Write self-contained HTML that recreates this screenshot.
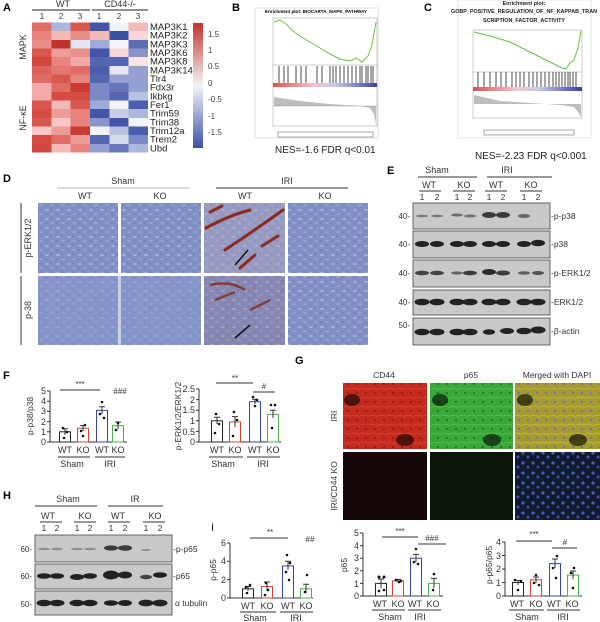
<!DOCTYPE html>
<html><head><meta charset="utf-8"><style>
html,body{margin:0;padding:0;background:#fff;}
svg{display:block;font-family:"Liberation Sans",Arial,sans-serif;}
</style></head><body>
<svg width="600" height="622" viewBox="0 0 600 622" xmlns="http://www.w3.org/2000/svg">
<defs>
<linearGradient id="cb" x1="0" y1="0" x2="0" y2="1">
<stop offset="0" stop-color="#c0332c"/><stop offset="0.5" stop-color="#f4f4f8"/><stop offset="1" stop-color="#3c50a5"/></linearGradient>
<linearGradient id="rb" x1="0" y1="0" x2="1" y2="0">
<stop offset="0" stop-color="#d9534f"/><stop offset="0.4" stop-color="#f2c4d4"/><stop offset="0.6" stop-color="#c8c8e8"/><stop offset="1" stop-color="#3a3fa0"/></linearGradient>
<pattern id="tis" width="11" height="9" patternUnits="userSpaceOnUse">
<rect width="11" height="9" fill="#8191c6"/>
<ellipse cx="3" cy="3" rx="2" ry="1" fill="#a3b0da"/>
<ellipse cx="8" cy="7" rx="1.8" ry="0.9" fill="#98a6d6"/>
<circle cx="7" cy="2" r="0.8" fill="#6a77b2"/><circle cx="2" cy="7" r="0.8" fill="#6a77b2"/>
</pattern>
<pattern id="red" width="9" height="9" patternUnits="userSpaceOnUse">
<rect width="9" height="9" fill="#c22b1e"/><path d="M0 2 Q4 0 9 3" stroke="#d9452f" stroke-width="0.8" fill="none"/><circle cx="6" cy="6" r="1" fill="#8a1a10"/></pattern>
<pattern id="grn" width="9" height="9" patternUnits="userSpaceOnUse">
<rect width="9" height="9" fill="#38a638"/><path d="M0 2 Q4 0 9 3" stroke="#55c04f" stroke-width="0.8" fill="none"/><circle cx="6" cy="6" r="1" fill="#1c6a1c"/></pattern>
<pattern id="mrg" width="9" height="9" patternUnits="userSpaceOnUse">
<rect width="9" height="9" fill="#a49a30"/><path d="M0 2 Q4 0 9 3" stroke="#c4b840" stroke-width="0.8" fill="none"/><circle cx="6" cy="6" r="1.2" fill="#7072a8"/></pattern>
<pattern id="dapi" width="10" height="10" patternUnits="userSpaceOnUse">
<rect width="10" height="10" fill="#121a2e"/><circle cx="3" cy="3" r="1.6" fill="#4a5fc0"/><circle cx="8" cy="7" r="1.5" fill="#3e52b0"/></pattern>
</defs>
<rect width="600" height="622" fill="#fff"/>

<!-- ===== A ===== -->
<text x="3" y="11" font-size="11" font-weight="bold">A</text>
<text x="63" y="7" font-size="9" text-anchor="middle" fill="#333">WT</text>
<text x="120" y="7" font-size="9" text-anchor="middle" fill="#333">CD44-/-</text>
<line x1="32" y1="10" x2="90" y2="10" stroke="#222"/><line x1="92" y1="10" x2="148" y2="10" stroke="#222"/>
<g font-size="8" text-anchor="middle" fill="#333"><text x="42" y="19">1</text><text x="61" y="19">2</text><text x="80" y="19">3</text><text x="99" y="19">1</text><text x="119" y="19">2</text><text x="138" y="19">3</text></g>
<g shape-rendering="crispEdges">
<g transform="translate(32,22.5)">
<rect x="0" y="0" width="19.4" height="8.7" fill="#e06c66"/><rect x="19.33" y="0" width="19.4" height="8.7" fill="#adb6dc"/><rect x="38.66" y="0" width="19.4" height="8.7" fill="#d85850"/><rect x="58" y="0" width="19.4" height="8.7" fill="#4255a8"/><rect x="77.33" y="0" width="19.4" height="8.7" fill="#f4f4f8"/><rect x="96.66" y="0" width="19.4" height="8.7" fill="#f4bab8"/>
<rect x="0" y="8.67" width="19.4" height="8.7" fill="#e8837e"/><rect x="19.33" y="8.67" width="19.4" height="8.7" fill="#f4bab8"/><rect x="38.66" y="8.67" width="19.4" height="8.7" fill="#ea8e8a"/><rect x="58" y="8.67" width="19.4" height="8.7" fill="#f4bab8"/><rect x="77.33" y="8.67" width="19.4" height="8.7" fill="#3c50a5"/><rect x="96.66" y="8.67" width="19.4" height="8.7" fill="#f8d6d5"/>
<rect x="0" y="17.34" width="19.4" height="8.7" fill="#ea8e8a"/><rect x="19.33" y="17.34" width="19.4" height="8.7" fill="#c0332c"/><rect x="38.66" y="17.34" width="19.4" height="8.7" fill="#e4e7f3"/><rect x="58" y="17.34" width="19.4" height="8.7" fill="#a0aad6"/><rect x="77.33" y="17.34" width="19.4" height="8.7" fill="#f4f4f8"/><rect x="96.66" y="17.34" width="19.4" height="8.7" fill="#5d6db6"/>
<rect x="0" y="26" width="19.4" height="8.7" fill="#d85850"/><rect x="19.33" y="26" width="19.4" height="8.7" fill="#ee9c98"/><rect x="38.66" y="26" width="19.4" height="8.7" fill="#ea8e8a"/><rect x="58" y="26" width="19.4" height="8.7" fill="#4255a8"/><rect x="77.33" y="26" width="19.4" height="8.7" fill="#f8d6d5"/><rect x="96.66" y="26" width="19.4" height="8.7" fill="#8795cb"/>
<rect x="0" y="34.68" width="19.4" height="8.7" fill="#d04840"/><rect x="19.33" y="34.68" width="19.4" height="8.7" fill="#e8837e"/><rect x="38.66" y="34.68" width="19.4" height="8.7" fill="#f1aaa7"/><rect x="58" y="34.68" width="19.4" height="8.7" fill="#5465b2"/><rect x="77.33" y="34.68" width="19.4" height="8.7" fill="#5465b2"/><rect x="96.66" y="34.68" width="19.4" height="8.7" fill="#f9e4e4"/>
<rect x="0" y="43.35" width="19.4" height="8.7" fill="#dc625b"/><rect x="19.33" y="43.35" width="19.4" height="8.7" fill="#e47873"/><rect x="38.66" y="43.35" width="19.4" height="8.7" fill="#e06c66"/><rect x="58" y="43.35" width="19.4" height="8.7" fill="#4b5dad"/><rect x="77.33" y="43.35" width="19.4" height="8.7" fill="#e4e7f3"/><rect x="96.66" y="43.35" width="19.4" height="8.7" fill="#93a0d1"/>
<rect x="0" y="52" width="19.4" height="8.7" fill="#e06c66"/><rect x="19.33" y="52" width="19.4" height="8.7" fill="#d85850"/><rect x="38.66" y="52" width="19.4" height="8.7" fill="#e8837e"/><rect x="58" y="52" width="19.4" height="8.7" fill="#5465b2"/><rect x="77.33" y="52" width="19.4" height="8.7" fill="#93a0d1"/><rect x="96.66" y="52" width="19.4" height="8.7" fill="#93a0d1"/>
<rect x="0" y="60.7" width="19.4" height="8.7" fill="#f1aaa7"/><rect x="19.33" y="60.7" width="19.4" height="8.7" fill="#e06c66"/><rect x="38.66" y="60.7" width="19.4" height="8.7" fill="#c83a32"/><rect x="58" y="60.7" width="19.4" height="8.7" fill="#7b8ac5"/><rect x="77.33" y="60.7" width="19.4" height="8.7" fill="#6676bb"/><rect x="96.66" y="60.7" width="19.4" height="8.7" fill="#93a0d1"/>
<rect x="0" y="69.36" width="19.4" height="8.7" fill="#f1aaa7"/><rect x="19.33" y="69.36" width="19.4" height="8.7" fill="#d44c44"/><rect x="38.66" y="69.36" width="19.4" height="8.7" fill="#d44c44"/><rect x="58" y="69.36" width="19.4" height="8.7" fill="#7b8ac5"/><rect x="77.33" y="69.36" width="19.4" height="8.7" fill="#5465b2"/><rect x="96.66" y="69.36" width="19.4" height="8.7" fill="#bac2e2"/>
<rect x="0" y="78" width="19.4" height="8.7" fill="#d85850"/><rect x="19.33" y="78" width="19.4" height="8.7" fill="#f4bab8"/><rect x="38.66" y="78" width="19.4" height="8.7" fill="#d85850"/><rect x="58" y="78" width="19.4" height="8.7" fill="#a0aad6"/><rect x="77.33" y="78" width="19.4" height="8.7" fill="#f4f4f8"/><rect x="96.66" y="78" width="19.4" height="8.7" fill="#4b5dad"/>
<rect x="0" y="86.7" width="19.4" height="8.7" fill="#d44c44"/><rect x="19.33" y="86.7" width="19.4" height="8.7" fill="#ee9c98"/><rect x="38.66" y="86.7" width="19.4" height="8.7" fill="#e8837e"/><rect x="58" y="86.7" width="19.4" height="8.7" fill="#4255a8"/><rect x="77.33" y="86.7" width="19.4" height="8.7" fill="#c8cee8"/><rect x="96.66" y="86.7" width="19.4" height="8.7" fill="#adb6dc"/>
<rect x="0" y="95.37" width="19.4" height="8.7" fill="#d85850"/><rect x="19.33" y="95.37" width="19.4" height="8.7" fill="#f6c8c6"/><rect x="38.66" y="95.37" width="19.4" height="8.7" fill="#e8837e"/><rect x="58" y="95.37" width="19.4" height="8.7" fill="#8795cb"/><rect x="77.33" y="95.37" width="19.4" height="8.7" fill="#4255a8"/><rect x="96.66" y="95.37" width="19.4" height="8.7" fill="#f4f4f8"/>
<rect x="0" y="104" width="19.4" height="8.7" fill="#f6c8c6"/><rect x="19.33" y="104" width="19.4" height="8.7" fill="#ee9c98"/><rect x="38.66" y="104" width="19.4" height="8.7" fill="#c83a32"/><rect x="58" y="104" width="19.4" height="8.7" fill="#f4f4f8"/><rect x="77.33" y="104" width="19.4" height="8.7" fill="#bac2e2"/><rect x="96.66" y="104" width="19.4" height="8.7" fill="#4b5dad"/>
<rect x="0" y="112.7" width="19.4" height="8.7" fill="#d44c44"/><rect x="19.33" y="112.7" width="19.4" height="8.7" fill="#e06c66"/><rect x="38.66" y="112.7" width="19.4" height="8.7" fill="#ee9c98"/><rect x="58" y="112.7" width="19.4" height="8.7" fill="#5465b2"/><rect x="77.33" y="112.7" width="19.4" height="8.7" fill="#d6dbee"/><rect x="96.66" y="112.7" width="19.4" height="8.7" fill="#7b8ac5"/>
<rect x="0" y="121.4" width="19.4" height="8.7" fill="#d04840"/><rect x="19.33" y="121.4" width="19.4" height="8.7" fill="#f4bab8"/><rect x="38.66" y="121.4" width="19.4" height="8.7" fill="#e8837e"/><rect x="58" y="121.4" width="19.4" height="8.7" fill="#93a0d1"/><rect x="77.33" y="121.4" width="19.4" height="8.7" fill="#6676bb"/><rect x="96.66" y="121.4" width="19.4" height="8.7" fill="#adb6dc"/>
</g></g>
<g font-size="9.5" fill="#222">
<text x="150" y="30">MAP3K1</text><text x="150" y="38.7">MAP3K2</text><text x="150" y="47.4">MAP3K3</text><text x="150" y="56">MAP3K6</text><text x="150" y="64.7">MAP3K8</text><text x="150" y="73.4">MAP3K14</text><text x="150" y="82">Tlr4</text><text x="150" y="90.7">Fdx3r</text><text x="150" y="99.4">Ikbkg</text><text x="150" y="108">Fer1</text><text x="150" y="116.7">Trim59</text><text x="150" y="125.4">Trim38</text><text x="150" y="134">Trim12a</text><text x="150" y="142.7">Trem2</text><text x="150" y="151.4">Ubd</text>
</g>
<text transform="translate(26,47) rotate(-90)" font-size="9" text-anchor="middle" fill="#333">MAPK</text>
<text transform="translate(26,118) rotate(-90)" font-size="9" text-anchor="middle" fill="#333">NF-κE</text>
<rect x="193" y="23" width="10" height="125" fill="url(#cb)"/>
<g font-size="8" fill="#444"><text x="208" y="37">1.5</text><text x="208" y="53">1</text><text x="208" y="69">0.5</text><text x="208" y="86">0</text><text x="208" y="102">-0.5</text><text x="208" y="119">-1</text><text x="208" y="135">-1.5</text></g>

<!-- ===== B ===== -->
<text x="232" y="11" font-size="11" font-weight="bold">B</text>
<rect x="255" y="8" width="123" height="130" fill="#fff" stroke="#ddd"/>
<text x="316" y="13" font-size="4.6" font-weight="bold" text-anchor="middle">Enrichment plot: BIOCARTA_MAPK_PATHWAY</text>
<rect x="273" y="18" width="104" height="108" fill="none" stroke="#999" stroke-width="0.5"/>
<line x1="273" y1="65" x2="377" y2="65" stroke="#999" stroke-width="0.5"/>
<path d="M274,22 L280,20 L286,24 L292,30 L300,36 L310,42 L320,48 L330,54 L340,59 L350,61 L356,58 L362,62 L368,56 L372,45 L376,22" fill="none" stroke="#6cc040" stroke-width="1"/>
<g stroke="#222" stroke-width="0.8">
<path d="M279,66V83M284,66V83M288,66V83M296,66V83M301,66V83M306,66V83M317,66V83M322,66V83M330,66V83M333,66V83M336,66V83M340,66V83M344,66V83M348,66V83M352,66V83M356,66V83M360,66V83M362,66V83M366,66V83M368,66V83M371,66V83M373,66V83"/></g>
<rect x="273" y="83" width="104" height="4" fill="url(#rb)"/>
<path d="M274,97 L300,101 L330,104 L360,106 L370,108 L374,114 L376,124 L376,106 L274,106 Z" fill="#bdbdbd"/>
<line x1="273" y1="106" x2="377" y2="106" stroke="#888" stroke-width="0.4"/>
<rect x="278" y="132" width="95" height="5" fill="none" stroke="#555" stroke-width="0.5"/>
<text x="275" y="153" font-size="10" fill="#222">NES=-1.6 FDR q&lt;0.01</text>

<!-- ===== C ===== -->
<text x="424" y="11" font-size="11" font-weight="bold">C</text>
<rect x="458" y="0" width="133" height="138" fill="#fff" stroke="#e4e4e4"/>
<g font-size="5.4" font-weight="bold" text-anchor="middle" fill="#222"><text x="524" y="5">Enrichment plot:</text><text x="524" y="13">GOBP_POSITIVE_REGULATION_OF_NF_KAPPAB_TRAN</text><text x="524" y="22">SCRIPTION_FACTOR_ACTIVITY</text></g>
<rect x="473" y="30" width="109" height="88" fill="none" stroke="#999" stroke-width="0.5"/>
<line x1="473" y1="72" x2="582" y2="72" stroke="#999" stroke-width="0.5"/>
<path d="M474,32 L490,36 L510,42 L530,52 L550,62 L562,68 L566,69 L570,63 L574,60 L578,48 L581,31" fill="none" stroke="#6cc040" stroke-width="1"/>
<g stroke="#222" stroke-width="0.8"><path d="M478,72V87M484,72V87M490,72V87M496,72V87M501,72V87M506,72V87M512,72V87M516,72V87M520,72V87M524,72V87M529,72V87M533,72V87M537,72V87M541,72V87M545,72V87M549,72V87M553,72V87M556,72V87M559,72V87M562,72V87M565,72V87M568,72V87M570,72V87M573,72V87M576,72V87"/></g>
<rect x="473" y="87" width="109" height="4" fill="url(#rb)"/>
<path d="M474,95 L500,101 L530,103 L560,105 L574,107 L578,112 L581,117 L581,104 L474,104 Z" fill="#bdbdbd"/>
<rect x="484" y="130" width="90" height="5" fill="none" stroke="#555" stroke-width="0.5"/>
<text x="475" y="159" font-size="10" fill="#222">NES=-2.23 FDR q&lt;0.001</text>

<!-- ===== D ===== -->
<text x="3" y="182" font-size="11" font-weight="bold">D</text>
<text x="123" y="184" font-size="9" text-anchor="middle" fill="#333">Sham</text>
<line x1="57" y1="188" x2="190" y2="188" stroke="#bbb"/>
<text x="287" y="184" font-size="9" text-anchor="middle" fill="#333">IRI</text>
<line x1="216" y1="188" x2="348" y2="188" stroke="#333"/>
<g font-size="9" text-anchor="middle" fill="#333"><text x="85" y="199">WT</text><text x="160" y="199">KO</text><text x="245" y="199">WT</text><text x="325" y="199">KO</text></g>
<line x1="21" y1="203" x2="21" y2="273" stroke="#333"/><line x1="21" y1="276" x2="21" y2="345" stroke="#333"/>
<text transform="translate(31,238) rotate(-90)" font-size="9" text-anchor="middle" fill="#333">p-ERK1/2</text>
<text transform="translate(31,310) rotate(-90)" font-size="9" text-anchor="middle" fill="#333">p-38</text>
<g>
<rect x="38" y="203" width="80" height="70" fill="url(#tis)"/>
<rect x="121" y="203" width="80" height="70" fill="url(#tis)"/>
<rect x="204" y="203" width="81" height="70" fill="url(#tis)"/>
<rect x="288" y="203" width="80" height="70" fill="url(#tis)"/>
<rect x="38" y="276" width="80" height="69" fill="url(#tis)"/>
<rect x="121" y="276" width="80" height="69" fill="url(#tis)"/>
<rect x="204" y="276" width="81" height="69" fill="url(#tis)"/>
<rect x="288" y="276" width="80" height="69" fill="url(#tis)"/>
<rect x="38" y="276" width="163" height="69" fill="#8a98cc" opacity="0.45"/>
<rect x="204" y="203" width="81" height="70" fill="#b9a8b8" opacity="0.4"/>
<g stroke="#8a2a1c" stroke-width="3" fill="none" stroke-linecap="round">
<path d="M206,228 Q230,215 250,210"/><path d="M225,250 Q255,230 283,210"/><path d="M240,268 L255,255"/><path d="M210,212 L222,206"/><path d="M262,246 L278,236"/></g>
<g stroke="#7a3020" stroke-width="2.5" fill="none"><path d="M210,285 Q230,280 245,290"/><path d="M215,300 L235,292"/><path d="M250,310 L270,300"/></g>
<rect x="204" y="276" width="81" height="69" fill="#9a6a80" opacity="0.25"/>
<path d="M235,265 L248,250" stroke="#111" stroke-width="1.5"/><path d="M235,338 L250,325" stroke="#111" stroke-width="1.5"/>
</g>

<!-- ===== E ===== -->
<text x="387" y="174" font-size="11" font-weight="bold">E</text>
<text x="437" y="173" font-size="9" text-anchor="middle" fill="#333">Sham</text>
<line x1="418" y1="177" x2="477" y2="177" stroke="#333"/>
<text x="507" y="173" font-size="9" text-anchor="middle" fill="#333">IRI</text>
<line x1="487" y1="177" x2="552" y2="177" stroke="#333"/>
<g font-size="9" text-anchor="middle" fill="#333"><text x="429" y="188">WT</text><text x="464" y="188">KO</text><text x="496" y="188">WT</text><text x="531" y="188">KO</text></g>
<g stroke="#333"><line x1="419" y1="191" x2="441" y2="191"/><line x1="453" y1="191" x2="475" y2="191"/><line x1="485" y1="191" x2="507" y2="191"/><line x1="520" y1="191" x2="542" y2="191"/></g>
<g font-size="8.5" text-anchor="middle" fill="#333"><text x="422" y="200">1</text><text x="437" y="200">2</text><text x="457" y="200">1</text><text x="470" y="200">2</text><text x="489" y="200">1</text><text x="503" y="200">2</text><text x="524" y="200">1</text><text x="538" y="200">2</text></g>
<g fill="#c9c9c9" stroke="#444" stroke-width="0.8">
<rect x="413" y="203" width="137" height="26"/><rect x="413" y="231" width="137" height="27"/><rect x="413" y="260" width="137" height="27"/><rect x="413" y="290" width="137" height="25"/><rect x="413" y="318" width="137" height="27"/></g>
<g fill="#222">
<ellipse cx="422" cy="216" rx="6" ry="1.3" opacity="0.5"/><ellipse cx="437" cy="216" rx="6" ry="1.3" opacity="0.5"/><ellipse cx="457" cy="215" rx="6" ry="1.5" opacity="0.55"/><ellipse cx="470" cy="216" rx="6" ry="1.5" opacity="0.55"/><ellipse cx="489" cy="215" rx="7" ry="3" opacity="0.85"/><ellipse cx="503" cy="215" rx="7" ry="3" opacity="0.85"/><ellipse cx="524" cy="216" rx="6" ry="2" opacity="0.6"/>
<ellipse cx="422" cy="244" rx="7" ry="3"/><ellipse cx="437" cy="244" rx="7" ry="3"/><ellipse cx="457" cy="244" rx="7" ry="3"/><ellipse cx="470" cy="244" rx="7" ry="3"/><ellipse cx="489" cy="244" rx="7" ry="3"/><ellipse cx="503" cy="244" rx="7" ry="3"/><ellipse cx="524" cy="244" rx="7" ry="3"/><ellipse cx="538" cy="243" rx="7" ry="3.2"/>
<ellipse cx="422" cy="273" rx="7" ry="2.3" opacity="0.8"/><ellipse cx="437" cy="273" rx="7" ry="2.2" opacity="0.8"/><ellipse cx="457" cy="273" rx="6" ry="1.6" opacity="0.6"/><ellipse cx="470" cy="273" rx="7" ry="2.3" opacity="0.85"/><ellipse cx="489" cy="272" rx="7" ry="3" opacity="0.95"/><ellipse cx="503" cy="273" rx="7" ry="2.5" opacity="0.85"/><ellipse cx="524" cy="273" rx="6" ry="1.8" opacity="0.65"/><ellipse cx="538" cy="273" rx="6" ry="2" opacity="0.7"/>
<ellipse cx="422" cy="302" rx="7.5" ry="3.3"/><ellipse cx="437" cy="302" rx="7.5" ry="3.3"/><ellipse cx="457" cy="302" rx="7.5" ry="3.3"/><ellipse cx="470" cy="302" rx="7.5" ry="3.3"/><ellipse cx="489" cy="302" rx="7.5" ry="3.3"/><ellipse cx="503" cy="302" rx="7.5" ry="3.3"/><ellipse cx="524" cy="302" rx="7.5" ry="3.3"/><ellipse cx="538" cy="302" rx="7.5" ry="3.3"/>
<ellipse cx="422" cy="332" rx="7.5" ry="3.3"/><ellipse cx="437" cy="332" rx="7.5" ry="3.3"/><ellipse cx="457" cy="332" rx="7.5" ry="3.3"/><ellipse cx="470" cy="332" rx="7.5" ry="3.3"/><ellipse cx="489" cy="332" rx="6" ry="2.8"/><ellipse cx="507" cy="331" rx="7" ry="3"/><ellipse cx="524" cy="331" rx="7.5" ry="3.3"/><ellipse cx="538" cy="330" rx="7.5" ry="3.5"/>
</g>
<g font-size="8" fill="#333" text-anchor="end"><text x="410" y="219">40-</text><text x="410" y="247">40-</text><text x="410" y="276">40-</text><text x="410" y="305">40-</text><text x="410" y="328">50-</text></g>
<g font-size="8.5" fill="#333"><text x="551" y="219">-p-p38</text><text x="551" y="247">-p38</text><text x="551" y="276">-p-ERK1/2</text><text x="551" y="305">-ERK1/2</text><text x="551" y="334">-β-actin</text></g>

<!-- ===== F ===== -->
<text x="3" y="379" font-size="11" font-weight="bold">F</text>
<g font-size="9" fill="#333">
<line x1="50" y1="391" x2="50" y2="442" stroke="#333"/><line x1="50" y1="442" x2="127" y2="442" stroke="#333"/>
<g text-anchor="end"><text x="46" y="445">0</text><text x="46" y="435">1</text><text x="46" y="425">2</text><text x="46" y="414">3</text><text x="46" y="404">4</text><text x="46" y="394">5</text></g>
<path d="M47,442H50M47,431.8H50M47,421.6H50M47,411.4H50M47,401.2H50M47,391H50" stroke="#333"/>
<text transform="translate(33,416) rotate(-90)" text-anchor="middle" font-size="8.5">p-p38/p38</text>
<rect x="59.5" y="431.8" width="11" height="10.2" fill="#fff" stroke="#222"/>
<rect x="77.5" y="428.2" width="11" height="13.8" fill="#fff" stroke="#d9413a"/>
<rect x="96.5" y="410.4" width="11" height="31.6" fill="#fff" stroke="#3446a0"/>
<rect x="112.5" y="425.7" width="11" height="16.3" fill="#fff" stroke="#4caf50"/>
<path d="M62,428.7H68M65,428.7V435M80,425.6H86M83,425.6V431M99,406.8H105M102,406.8V414M115,422H121M118,422V429" stroke="#333" fill="none"/>
<g fill="#111"><circle cx="63" cy="428" r="1.3"/><circle cx="67" cy="432" r="1.3"/><circle cx="64" cy="438" r="1.3"/><circle cx="81" cy="431" r="1.3"/><circle cx="85" cy="425" r="1.3"/><circle cx="83" cy="436" r="1.3"/><circle cx="102" cy="402" r="1.3"/><circle cx="100" cy="414" r="1.3"/><circle cx="104" cy="418" r="1.3"/><circle cx="118" cy="423" r="1.3"/><circle cx="116" cy="430" r="1.3"/></g>
<text x="80" y="387" text-anchor="middle" font-size="8">***</text><line x1="60" y1="390" x2="100" y2="390" stroke="#333"/>
<text x="120" y="394" text-anchor="middle" font-size="8">###</text>
<g text-anchor="middle"><text x="65" y="453">WT</text><text x="83" y="453">KO</text><text x="102" y="453">WT</text><text x="118" y="453">KO</text><text x="72" y="467">Sham</text><text x="110" y="467">IRI</text></g>
<line x1="58" y1="457" x2="90" y2="457" stroke="#333"/><line x1="95" y1="457" x2="125" y2="457" stroke="#333"/>
<line x1="199" y1="389" x2="199" y2="442" stroke="#333"/><line x1="199" y1="442" x2="281" y2="442" stroke="#333"/>
<g text-anchor="end"><text x="195" y="445">0</text><text x="195" y="435">0.5</text><text x="195" y="424">1</text><text x="195" y="413">1.5</text><text x="195" y="403">2</text><text x="195" y="392">2.5</text></g>
<path d="M196,442H199M196,431.4H199M196,420.8H199M196,410.2H199M196,399.6H199M196,389H199" stroke="#333"/>
<text transform="translate(181,416) rotate(-90)" text-anchor="middle" font-size="8.5">p-ERK1/2/ERK1/2</text>
<rect x="211.5" y="420.8" width="11" height="21.2" fill="#fff" stroke="#222"/>
<rect x="229.5" y="421.9" width="11" height="20.1" fill="#fff" stroke="#d9413a"/>
<rect x="249.5" y="401.7" width="11" height="40.3" fill="#fff" stroke="#3446a0"/>
<rect x="267.5" y="414.4" width="11" height="27.6" fill="#fff" stroke="#4caf50"/>
<path d="M214,417.2H220M217,417.2V424M232,416.6H238M235,416.6V427M252,399.2H258M255,399.2V404M270,410.2H276M273,410.2V418" stroke="#333" fill="none"/>
<g fill="#111"><circle cx="216" cy="414" r="1.3"/><circle cx="219" cy="424" r="1.3"/><circle cx="215" cy="433" r="1.3"/><circle cx="234" cy="412" r="1.3"/><circle cx="237" cy="420" r="1.3"/><circle cx="233" cy="436" r="1.3"/><circle cx="253" cy="397" r="1.3"/><circle cx="257" cy="400" r="1.3"/><circle cx="255" cy="406" r="1.3"/><circle cx="271" cy="405" r="1.3"/><circle cx="275" cy="405" r="1.3"/><circle cx="272" cy="428" r="1.3"/></g>
<text x="235" y="381" text-anchor="middle" font-size="8">**</text><line x1="216" y1="383" x2="253" y2="383" stroke="#333"/>
<text x="264" y="389" text-anchor="middle" font-size="8">#</text><line x1="253" y1="392" x2="275" y2="392" stroke="#333"/>
<g text-anchor="middle"><text x="217" y="453">WT</text><text x="235" y="453">KO</text><text x="255" y="453">WT</text><text x="273" y="453">KO</text><text x="223" y="467">Sham</text><text x="263" y="467">IRI</text></g>
<line x1="209" y1="457" x2="243" y2="457" stroke="#333"/><line x1="247" y1="457" x2="280" y2="457" stroke="#333"/>
</g>

<!-- ===== G ===== -->
<text x="295" y="364" font-size="11" font-weight="bold">G</text>
<g font-size="8.5" text-anchor="middle" fill="#333"><text x="384" y="378">CD44</text><text x="471" y="378">p65</text><text x="557" y="378">Merged with DAPI</text></g>
<rect x="343" y="383" width="84" height="66" fill="url(#red)"/>
<rect x="430" y="383" width="83" height="66" fill="url(#grn)"/>
<rect x="515" y="383" width="85" height="66" fill="url(#mrg)"/>
<g fill="#000" opacity="0.6"><ellipse cx="352" cy="400" rx="8" ry="6"/><ellipse cx="405" cy="440" rx="9" ry="6"/><ellipse cx="440" cy="400" rx="8" ry="6"/><ellipse cx="492" cy="440" rx="9" ry="6"/><ellipse cx="525" cy="400" rx="8" ry="6"/><ellipse cx="578" cy="440" rx="9" ry="6"/></g>
<rect x="343" y="452" width="84" height="68" fill="#160808"/>
<rect x="430" y="452" width="83" height="68" fill="#0a160a"/>
<rect x="515" y="452" width="85" height="68" fill="url(#dapi)"/>
<text transform="translate(337,416) rotate(-90)" font-size="8.5" text-anchor="middle" fill="#333">IRI</text>
<text transform="translate(337,486) rotate(-90)" font-size="8.5" text-anchor="middle" fill="#333">IRI/CD44 KO</text>

<!-- ===== H ===== -->
<text x="3" y="499" font-size="11" font-weight="bold">H</text>
<g font-size="9" text-anchor="middle" fill="#333"><text x="68" y="502">Sham</text><text x="135" y="502">IR</text>
<text x="48" y="519">WT</text><text x="85" y="519">KO</text><text x="118" y="519">WT</text><text x="155" y="519">KO</text></g>
<g stroke="#333"><line x1="35" y1="506" x2="97" y2="506"/><line x1="108" y1="506" x2="163" y2="506"/><line x1="40" y1="522" x2="62" y2="522"/><line x1="74" y1="522" x2="96" y2="522"/><line x1="108" y1="522" x2="130" y2="522"/><line x1="143" y1="522" x2="165" y2="522"/></g>
<g font-size="8.5" text-anchor="middle" fill="#333"><text x="44" y="531">1</text><text x="57" y="531">2</text><text x="77" y="531">1</text><text x="90" y="531">2</text><text x="111" y="531">1</text><text x="125" y="531">2</text><text x="146" y="531">1</text><text x="160" y="531">2</text></g>
<g fill="#c9c9c9" stroke="#444" stroke-width="0.8"><rect x="35" y="535" width="137" height="27"/><rect x="35" y="564" width="137" height="25"/><rect x="35" y="591" width="137" height="24"/></g>
<g fill="#222">
<ellipse cx="44" cy="549" rx="6" ry="1.3" opacity="0.35"/><ellipse cx="57" cy="549" rx="6" ry="1.3" opacity="0.35"/><ellipse cx="77" cy="549" rx="6" ry="1.3" opacity="0.35"/><ellipse cx="90" cy="549" rx="6" ry="1.3" opacity="0.35"/><ellipse cx="111" cy="548" rx="7" ry="2.6" opacity="0.85"/><ellipse cx="125" cy="548" rx="7" ry="2.8" opacity="0.85"/><ellipse cx="146" cy="550" rx="5" ry="1" opacity="0.35"/>
<ellipse cx="44" cy="576" rx="7" ry="2.8"/><ellipse cx="57" cy="576" rx="7" ry="2.8"/><ellipse cx="77" cy="577" rx="7" ry="3"/><ellipse cx="90" cy="576" rx="7" ry="2.8"/><ellipse cx="111" cy="575" rx="8" ry="4.5"/><ellipse cx="125" cy="575" rx="7" ry="3.5"/><ellipse cx="146" cy="577" rx="6" ry="2.2" opacity="0.8"/><ellipse cx="160" cy="575" rx="7" ry="2.8"/>
<ellipse cx="44" cy="603" rx="7.5" ry="3.2"/><ellipse cx="57" cy="603" rx="7.5" ry="3.2"/><ellipse cx="77" cy="603" rx="7.5" ry="3.2"/><ellipse cx="90" cy="603" rx="7.5" ry="3.2"/><ellipse cx="111" cy="603" rx="7" ry="2.8"/><ellipse cx="125" cy="603" rx="7" ry="3"/><ellipse cx="146" cy="603" rx="7.5" ry="3.4"/><ellipse cx="160" cy="603" rx="7.5" ry="3.4"/>
</g>
<g font-size="8" fill="#333" text-anchor="end"><text x="32" y="552">60-</text><text x="32" y="579">60-</text><text x="32" y="607">50-</text></g>
<g font-size="8.5" fill="#333"><text x="173" y="552">-p-p65</text><text x="173" y="579">-p65</text><text x="175" y="606">α tubulin</text></g>

<!-- ===== I ===== -->
<text x="211" y="531" font-size="11" fill="#222">I</text>
<g font-size="9" fill="#333">
<line x1="230" y1="543" x2="230" y2="598" stroke="#333"/><line x1="230" y1="598" x2="313" y2="598" stroke="#333"/>
<g text-anchor="end"><text x="226" y="601">0</text><text x="226" y="583">2</text><text x="226" y="564">4</text><text x="226" y="546">6</text></g>
<path d="M227,598H230M227,579.7H230M227,561.3H230M227,543H230" stroke="#333"/>
<text transform="translate(216,570) rotate(-90)" text-anchor="middle" font-size="8.5">p-p65</text>
<rect x="242.5" y="588.8" width="11" height="9.2" fill="#fff" stroke="#222"/>
<rect x="261.5" y="586.5" width="11" height="11.5" fill="#fff" stroke="#d9413a"/>
<rect x="282.5" y="565.9" width="11" height="32.1" fill="#fff" stroke="#3446a0"/>
<rect x="300.5" y="588.8" width="11" height="9.2" fill="#fff" stroke="#4caf50"/>
<path d="M245,586.5H251M248,586.5V591M264,582H270M267,582V591M285,561.3H291M288,561.3V570M303,584.2H309M306,584.2V593" stroke="#333" fill="none"/>
<g fill="#111"><circle cx="246" cy="587" r="1.3"/><circle cx="250" cy="585" r="1.3"/><circle cx="247" cy="593" r="1.3"/><circle cx="266" cy="583" r="1.3"/><circle cx="268" cy="590" r="1.3"/><circle cx="265" cy="595" r="1.3"/><circle cx="287" cy="555" r="1.3"/><circle cx="290" cy="563" r="1.3"/><circle cx="286" cy="572" r="1.3"/><circle cx="289" cy="580" r="1.3"/><circle cx="307" cy="575" r="1.3"/><circle cx="305" cy="592" r="1.3"/></g>
<text x="270" y="535" text-anchor="middle" font-size="8">**</text><line x1="250" y1="538" x2="288" y2="538" stroke="#333"/>
<text x="310" y="542" text-anchor="middle" font-size="8">##</text>
<g text-anchor="middle"><text x="248" y="609">WT</text><text x="267" y="609">KO</text><text x="288" y="609">WT</text><text x="306" y="609">KO</text><text x="255" y="621">Sham</text><text x="296" y="621">IRI</text></g>
<line x1="240" y1="612" x2="276" y2="612" stroke="#333"/><line x1="280" y1="612" x2="313" y2="612" stroke="#333"/>
<line x1="363" y1="533" x2="363" y2="596" stroke="#333"/><line x1="363" y1="596" x2="443" y2="596" stroke="#333"/>
<g text-anchor="end"><text x="359" y="599">0</text><text x="359" y="587">1</text><text x="359" y="574">2</text><text x="359" y="561">3</text><text x="359" y="549">4</text><text x="359" y="536">5</text></g>
<path d="M360,596H363M360,583.4H363M360,570.8H363M360,558.2H363M360,545.6H363M360,533H363" stroke="#333"/>
<text transform="translate(347,565) rotate(-90)" text-anchor="middle" font-size="8.5">p65</text>
<rect x="375.5" y="583.4" width="11" height="12.6" fill="#fff" stroke="#222"/>
<rect x="392.5" y="580.9" width="11" height="15.1" fill="#fff" stroke="#d9413a"/>
<rect x="410.5" y="558.2" width="11" height="37.8" fill="#fff" stroke="#3446a0"/>
<rect x="428.5" y="583.4" width="11" height="12.6" fill="#fff" stroke="#4caf50"/>
<path d="M378,579H384M381,579V588M395,579.4H401M398,579.4V582M413,554.4H419M416,554.4V562M431,578.4H437M434,578.4V588" stroke="#333" fill="none"/>
<g fill="#111"><circle cx="379" cy="577" r="1.5"/><circle cx="384" cy="577" r="1.5"/><circle cx="379" cy="591" r="1.3"/><circle cx="384" cy="590" r="1.3"/><circle cx="396" cy="580" r="1.3"/><circle cx="399" cy="582" r="1.3"/><circle cx="401" cy="581" r="1.3"/><circle cx="416" cy="549" r="1.3"/><circle cx="414" cy="562" r="1.3"/><circle cx="418" cy="564" r="1.3"/><circle cx="434" cy="574" r="1.3"/><circle cx="433" cy="590" r="1.3"/></g>
<text x="400" y="534" text-anchor="middle" font-size="8">***</text><line x1="382" y1="537" x2="418" y2="537" stroke="#333"/>
<text x="432" y="541" text-anchor="middle" font-size="8">###</text><line x1="418" y1="544" x2="446" y2="544" stroke="#333"/>
<g text-anchor="middle"><text x="380" y="607">WT</text><text x="398" y="607">KO</text><text x="415" y="607">WT</text><text x="433" y="607">KO</text><text x="390" y="620">Sham</text><text x="420" y="620">IRI</text></g>
<line x1="372" y1="610" x2="405" y2="610" stroke="#333"/><line x1="408" y1="610" x2="441" y2="610" stroke="#333"/>
<line x1="505" y1="542" x2="505" y2="596" stroke="#333"/><line x1="505" y1="596" x2="582" y2="596" stroke="#333"/>
<g text-anchor="end"><text x="501" y="599">0</text><text x="501" y="586">1</text><text x="501" y="572">2</text><text x="501" y="559">3</text><text x="501" y="545">4</text></g>
<path d="M502,596H505M502,582.5H505M502,569H505M502,555.5H505M502,542H505" stroke="#333"/>
<text transform="translate(492,565) rotate(-90)" text-anchor="middle" font-size="8.5">p-p65/p65</text>
<rect x="512.5" y="582.5" width="11" height="13.5" fill="#fff" stroke="#222"/>
<rect x="530.5" y="579.8" width="11" height="16.2" fill="#fff" stroke="#d9413a"/>
<rect x="549.5" y="563.6" width="11" height="32.4" fill="#fff" stroke="#3446a0"/>
<rect x="567.5" y="575.1" width="11" height="20.9" fill="#fff" stroke="#4caf50"/>
<path d="M515,580.5H521M518,580.5V585M533,577H539M536,577V583M552,559H558M555,559V568M570,571H576M573,571V579" stroke="#333" fill="none"/>
<g fill="#111"><circle cx="515" cy="580" r="1.3"/><circle cx="521" cy="581" r="1.3"/><circle cx="518" cy="590" r="1.3"/><circle cx="536" cy="575" r="1.3"/><circle cx="534" cy="583" r="1.3"/><circle cx="539" cy="585" r="1.3"/><circle cx="557" cy="556" r="1.3"/><circle cx="553" cy="568" r="1.3"/><circle cx="556" cy="578" r="1.3"/><circle cx="574" cy="568" r="1.3"/><circle cx="571" cy="573" r="1.3"/><circle cx="573" cy="588" r="1.3"/></g>
<text x="534" y="537" text-anchor="middle" font-size="8">***</text><line x1="516" y1="541" x2="552" y2="541" stroke="#333"/>
<text x="565" y="545" text-anchor="middle" font-size="8">#</text><line x1="552" y1="548" x2="577" y2="548" stroke="#333"/>
<g text-anchor="middle"><text x="517" y="607">WT</text><text x="536" y="607">KO</text><text x="554" y="607">WT</text><text x="572" y="607">KO</text><text x="527" y="620">Sham</text><text x="563" y="620">IRI</text></g>
<line x1="509" y1="610" x2="544" y2="610" stroke="#333"/><line x1="547" y1="610" x2="580" y2="610" stroke="#333"/>
</g>
</svg>
</body></html>
